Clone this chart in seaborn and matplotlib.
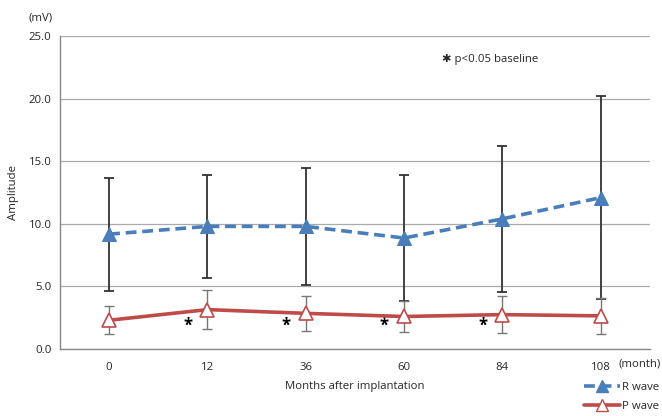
import numpy as np
import pandas as pd
import seaborn as sns
import matplotlib.pyplot as plt
from matplotlib.lines import Line2D

months = ["0", "12", "36", "60", "84", "108"]
r_wave = [9.18, 9.80, 9.80, 8.87, 10.40, 12.10]
r_sd = [4.52, 4.12, 4.68, 5.02, 5.82, 8.10]
p_wave = [2.30, 3.15, 2.85, 2.60, 2.75, 2.65]
p_sd = [1.10, 1.55, 1.40, 1.25, 1.50, 1.45]
sig_months = ["12", "36", "60", "84"]
sig_level = 1.9

blue = "#4a7ebb"
red = "#be4b48"

sns.set_style("white")
plt.rcParams["font.family"] = ["Open Sans", "DejaVu Sans"]
fs = 8.2

df = pd.DataFrame({"pos": np.arange(len(months)), "R wave": r_wave, "P wave": p_wave})

fig = plt.figure(figsize=(6.62, 4.16), dpi=100)
ax = fig.add_axes([0.0906, 0.161, 0.891, 0.752])

# error bars first so lines sit on top
ax.errorbar(df["pos"], r_wave, yerr=r_sd, fmt="none", ecolor="#333333",
            elinewidth=1.3, capsize=3.5, capthick=1.3, zorder=2)
ax.errorbar(df["pos"], p_wave, yerr=p_sd, fmt="none", ecolor="#777777",
            elinewidth=1.0, capsize=3.5, capthick=1.0, zorder=2)

sns.lineplot(data=df, x="pos", y="R wave", ax=ax, color=blue, linewidth=2.6,
             linestyle=(0, (3, 1.6)), marker="^", markersize=10,
             markeredgecolor=blue, markerfacecolor=blue, zorder=4)
sns.lineplot(data=df, x="pos", y="P wave", ax=ax, color=red, linewidth=2.6,
             marker="^", markersize=10, markeredgecolor=red,
             markerfacecolor="white", markeredgewidth=1.2, zorder=4)

for m in sig_months:
    ax.text(months.index(m) - 0.2, sig_level, "*", ha="center", va="center",
            fontsize=12, fontweight="bold", color="black")

ax.set_xlim(-0.5, len(months) - 0.5)
ax.set_ylim(0, 25)
ax.set_yticks(np.arange(0, 26, 5))
ax.set_yticklabels([f"{v:.1f}" for v in np.arange(0, 26, 5)], fontsize=fs)
ax.set_xticks(np.arange(len(months)))
ax.set_xticklabels(months, fontsize=fs)
ax.set_xticks(np.arange(-0.5, len(months)), minor=True)
ax.tick_params(axis="x", which="major", length=0, pad=9)
ax.tick_params(axis="x", which="minor", length=4, color="#888888", direction="out")
ax.tick_params(axis="y", length=3, color="#888888", direction="out", pad=3)
ax.grid(axis="y", color="#aaaaaa", linewidth=0.9)
ax.set_axisbelow(True)
for s in ["top", "right"]:
    ax.spines[s].set_visible(False)
for s in ["left", "bottom"]:
    ax.spines[s].set_color("#888888")
    ax.spines[s].set_linewidth(1.0)

ax.set_xlabel("Months after implantation", fontsize=fs, labelpad=6)
ax.set_ylabel("Amplitude", fontsize=fs, labelpad=7)

fig.text(0.061, 0.957, "(mV)", fontsize=fs, ha="center", va="center")
fig.text(0.998, 0.124, "(month)", fontsize=fs, ha="right", va="center")
fig.text(0.668, 0.856, "✱ p<0.05 baseline", fontsize=fs, ha="left", va="center")

handles = [
    Line2D([], [], color=blue, linewidth=2.6, linestyle=(0, (3, 1.6)), marker="^",
           markersize=8, markerfacecolor=blue, markeredgecolor=blue),
    Line2D([], [], color=red, linewidth=2.6, marker="^", markersize=8,
           markerfacecolor="white", markeredgecolor=red),
]
fig.legend(handles, ["R wave", "P wave"], loc="center right",
           bbox_to_anchor=(1.005, 0.046), frameon=False, fontsize=fs,
           handlelength=3.2, handletextpad=0.2, labelspacing=0.75,
           borderpad=0.0)

fig.savefig("out.png", dpi=100)
